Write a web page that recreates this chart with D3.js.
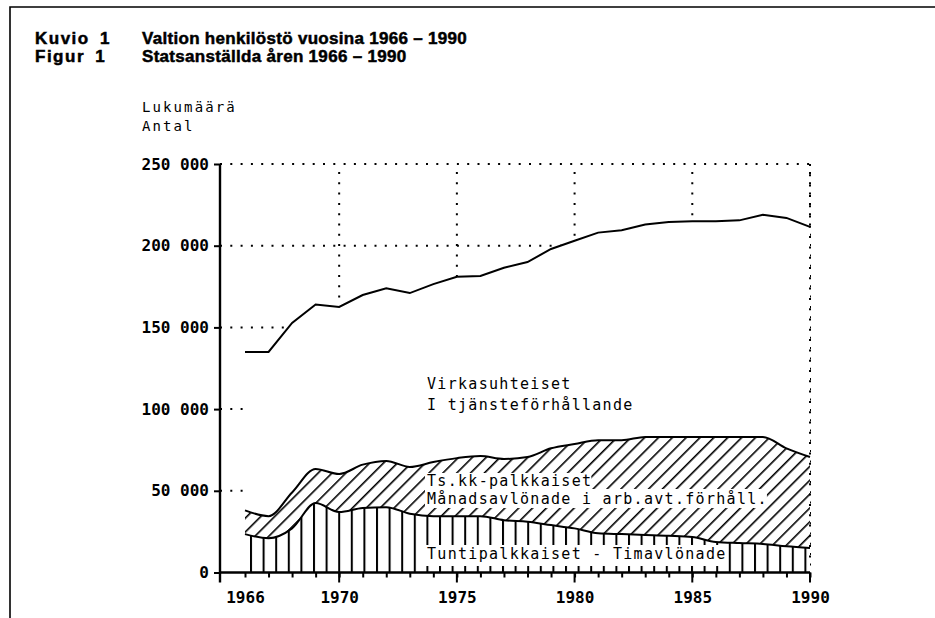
<!DOCTYPE html>
<html>
<head>
<meta charset="utf-8">
<script src="https://cdn.jsdelivr.net/npm/d3@7"></script>
<style>
  body { margin: 0; background: #fff; }
  svg { display: block; }
  .mono { font-family: "DejaVu Sans Mono", monospace; }
  .title { font-family: "Liberation Sans", Arial, sans-serif; font-weight: bold; font-size: 17px;
           letter-spacing: 0.3px; stroke: #000; stroke-width: 0.5px; }
  .title .num { letter-spacing: 1.5px; word-spacing: 4px; }
</style>
</head>
<body>
<svg width="935" height="618"></svg>
<script>
// Valtion henkilöstö 1966-1990, luettu kuvasta
var years = [1966, 1967, 1968, 1969, 1970, 1971, 1972, 1973, 1974, 1975, 1976, 1977, 1978,
             1979, 1980, 1981, 1982, 1983, 1984, 1985, 1986, 1987, 1988, 1989, 1990];
var tuntipalkkaiset = [23500, 21000, 27000, 42500, 37000, 39500, 40000, 36000, 34500, 34500, 34500, 32000, 31000,
                       29000, 27000, 24000, 23500, 23000, 22500, 21700, 18700, 18000, 17500, 16000, 15000];
var kkPalkkaiset = [14500, 13500, 22000, 20900, 23300, 26500, 28300, 28600, 33100, 35500, 36800, 37500, 39700,
                    47000, 51600, 57000, 57500, 60000, 60500, 61300, 64300, 65000, 65500, 60000, 55700];
var virkasuhteiset = [97000, 100500, 103700, 100600, 102200, 103800, 105700, 106400, 108900, 111000, 110200, 117000, 119300,
                      122000, 124400, 127000, 128500, 130000, 131500, 132000, 132000, 132500, 136000, 141000, 140800];
var yTicks = [0, 50000, 100000, 150000, 200000, 250000];
var xLabels = [1966, 1970, 1975, 1980, 1985, 1990];
var xMajor = [1970, 1975, 1980, 1985, 1990];

var svg = d3.select("svg");
var axisX = 220;

var x = d3.scaleLinear().domain([1966, 1990]).range([245, 810]);
var y = d3.scaleLinear().domain([0, 250000]).range([572.5, 164]);

var rows = years.map(function(yr, i) {
  return { year: yr, tunti: tuntipalkkaiset[i], kk: kkPalkkaiset[i], virka: virkasuhteiset[i] };
});
var stack = d3.stack().keys(["tunti", "kk", "virka"])(rows);

// frame
svg.append("path").attr("d", "M10,618V7H935")
  .attr("fill", "none").attr("stroke", "#000").attr("stroke-width", 1.6);

// titles
var tg = svg.append("g").attr("class", "title");
tg.append("text").attr("class", "num").attr("x", 35).attr("y", 44).text("Kuvio 1");
tg.append("text").attr("class", "num").attr("x", 35).attr("y", 62).text("Figur 1");
tg.append("text").attr("x", 142).attr("y", 44).text("Valtion henkilöstö vuosina 1966 – 1990");
tg.append("text").attr("x", 142).attr("y", 62).text("Statsanställda åren 1966 – 1990");

// patterns
var defs = svg.append("defs");
var pv = defs.append("pattern").attr("id", "vert").attr("patternUnits", "userSpaceOnUse")
  .attr("x", 250).attr("y", 0).attr("width", 12.6).attr("height", 10);
pv.append("rect").attr("x", 0).attr("y", 0).attr("width", 2).attr("height", 10).attr("fill", "#000");
var pd = defs.append("pattern").attr("id", "diag").attr("patternUnits", "userSpaceOnUse")
  .attr("width", 9.8).attr("height", 10).attr("patternTransform", "rotate(45)");
pd.append("rect").attr("x", 0).attr("y", 0).attr("width", 1.6).attr("height", 10).attr("fill", "#000");

// dotted grid
var dots = { stroke: "#000", "stroke-width": 2, "stroke-dasharray": "2 8.3", fill: "none" };
var grid = svg.append("g");
yTicks.filter(function(d) { return d > 0; }).forEach(function(d) {
  var l = grid.append("line").attr("x1", axisX).attr("x2", x(1990)).attr("y1", y(d)).attr("y2", y(d));
  Object.keys(dots).forEach(function(k) { l.attr(k, dots[k]); });
});
xMajor.forEach(function(d) {
  var l = grid.append("line").attr("x1", x(d)).attr("x2", x(d)).attr("y1", y(250000) + 8).attr("y2", y(0));
  Object.keys(dots).forEach(function(k) { l.attr(k, dots[k]); });
});

// areas
var totalArea = d3.area().x(function(d) { return x(d.data.year); }).y0(y(0)).y1(function(d) { return y(d[1]); });
svg.append("path").datum(stack[2]).attr("d", totalArea).attr("fill", "#fff");

var bandArea = d3.area().curve(d3.curveMonotoneX)
  .x(function(d) { return x(d.data.year); })
  .y0(function(d) { return y(d[0]); })
  .y1(function(d) { return y(d[1]); });
svg.append("path").datum(stack[0]).attr("d", bandArea).attr("fill", "url(#vert)");
svg.append("path").datum(stack[1]).attr("d", bandArea).attr("fill", "url(#diag)");

// labels with white background
var labels = [
  { text: "Virkasuhteiset", y: 389 },
  { text: "I tjänsteförhållande", y: 410 },
  { text: "Ts.kk-palkkaiset", y: 486, pad: [13, 3] },
  { text: "Månadsavlönade i arb.avt.förhåll.", y: 504, pad: [15, 4] },
  { text: "Tuntipalkkaiset - Timavlönade", y: 559, pad: [14, 7] }
];
var lg = svg.append("g").attr("class", "mono").style("font-size", "15px").style("letter-spacing", "1.3px");
labels.forEach(function(d) {
  var t = lg.append("text").attr("x", 427).attr("y", d.y).text(d.text);
  if (d.pad) {
    var bb = t.node().getBBox();
    lg.insert("rect", "text").attr("x", bb.x - 2).attr("y", d.y - d.pad[0])
      .attr("width", bb.width + 1).attr("height", d.pad[0] + d.pad[1]).attr("fill", "#fff");
  }
});

// boundary lines
var boundary = d3.line().curve(d3.curveMonotoneX)
  .x(function(d) { return x(d.data.year); }).y(function(d) { return y(d[1]); });
svg.append("path").datum(stack[0]).attr("d", boundary).attr("fill", "none").attr("stroke", "#000").attr("stroke-width", 2);
svg.append("path").datum(stack[1]).attr("d", boundary).attr("fill", "none").attr("stroke", "#000").attr("stroke-width", 2);
var totalLine = d3.line().x(function(d) { return x(d.data.year); }).y(function(d) { return y(d[1]); });
svg.append("path").datum(stack[2]).attr("d", totalLine).attr("fill", "none").attr("stroke", "#000").attr("stroke-width", 2);

var l90 = svg.append("line").attr("x1", x(1990)).attr("x2", x(1990)).attr("y1", y(250000)).attr("y2", y(5000));
Object.keys(dots).forEach(function(k) { l90.attr(k, dots[k]); });

// y axis
var yAxis = svg.append("g").attr("class", "mono").attr("transform", "translate(" + axisX + ",0)")
  .call(d3.axisLeft(y).tickValues(yTicks).tickSize(6).tickPadding(5)
    .tickFormat(function(d) { return d3.format(",")(d).replace(",", " "); }));
yAxis.select(".domain").remove();
yAxis.selectAll("line").attr("stroke-width", 2);
yAxis.selectAll("text").style("font-size", "16px").style("font-weight", "bold").attr("fill", "#000");
yAxis.append("line").attr("y1", y(250000)).attr("y2", y(0) + 10).attr("stroke", "#000").attr("stroke-width", 2.4);

// x axis
var xg = svg.append("g").attr("transform", "translate(0," + y(0) + ")");
xg.append("line").attr("x1", axisX).attr("x2", x(1990)).attr("stroke", "#000").attr("stroke-width", 2.4);
var minor = xg.append("g").call(d3.axisBottom(x).tickValues(years).tickSize(5).tickFormat(""));
minor.select(".domain").remove();
minor.selectAll("line").attr("stroke-width", 2);
var major = xg.append("g").attr("class", "mono")
  .call(d3.axisBottom(x).tickValues(xLabels).tickSize(0).tickPadding(19).tickFormat(d3.format("d")));
major.select(".domain").remove();
major.selectAll("text").style("font-size", "16px").style("font-weight", "bold").attr("fill", "#000");
xMajor.forEach(function(d) {
  xg.append("line").attr("x1", x(d)).attr("x2", x(d)).attr("y1", 0).attr("y2", 10).attr("stroke", "#000").attr("stroke-width", 2);
});

// y axis title
var yt = svg.append("g").attr("class", "mono").style("font-size", "14px").style("letter-spacing", "2.1px");
yt.append("text").attr("x", 142).attr("y", 112).text("Lukumäärä");
yt.append("text").attr("x", 142).attr("y", 131).text("Antal");
</script>
</body>
</html>
